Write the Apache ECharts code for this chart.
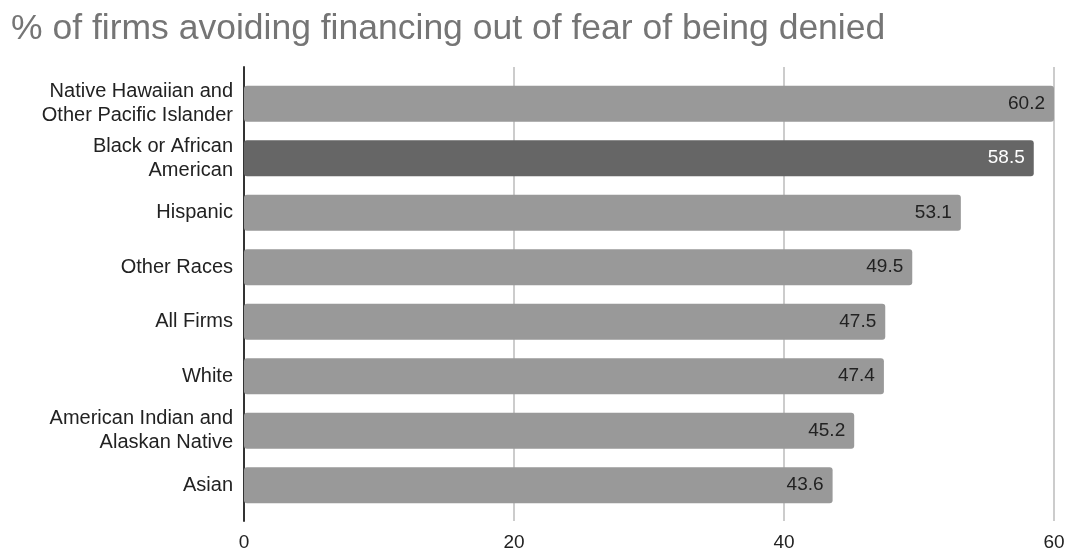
<!DOCTYPE html>
<html><head><meta charset="utf-8">
<script src="https://cdn.jsdelivr.net/npm/echarts@6/dist/echarts.min.js"></script>
<style>html,body{margin:0;padding:0;background:#fff}#c{width:1069px;height:552px}</style>
</head><body><div id="c"></div>
<script>
const titleText = '% of firms avoiding financing out of fear of being denied';
const categories = ['Native Hawaiian and\nOther Pacific Islander','Black or African\nAmerican','Hispanic','Other Races','All Firms','White','American Indian and\nAlaskan Native','Asian'];
const values = [60.2, 58.5, 53.1, 49.5, 47.5, 47.4, 45.2, 43.6];
const highlightIndex = 1;
const xTicks = [0, 20, 40, 60];

const font = 'Liberation Sans, Arial, sans-serif';
const chart = echarts.init(document.getElementById('c'));
chart.setOption({
  animation: false,
  title: { text: titleText, left: 6, top: 6, textStyle: { fontFamily: font, fontSize: 35.5, fontWeight: 'normal', color: '#757575' } },
  grid: [
    { left: 244, right: 15, top: 67, bottom: 30, containLabel: false },
    { left: 244, right: 15, top: 76.5, height: 436, containLabel: false }
  ],
  xAxis: [
    { gridIndex: 0, type: 'value', min: 0, max: 60, interval: 20,
      axisLine: { show: false }, axisTick: { show: false },
      splitLine: { lineStyle: { color: '#cccccc', width: 2 } },
      axisLabel: { fontFamily: font, fontSize: 19, color: '#222', margin: 12,
        formatter: v => xTicks.includes(v) ? String(v) : '' } },
    { gridIndex: 1, type: 'value', min: 0, max: 60, show: false }
  ],
  yAxis: [
    { gridIndex: 0, type: 'value', min: 0, max: 1, axisLabel: { show: false }, splitLine: { show: false },
      axisTick: { show: false }, axisLine: { show: true, onZero: false, lineStyle: { color: '#333', width: 2 } } },
    { gridIndex: 1, type: 'category', inverse: true, data: categories,
      axisLine: { show: false }, axisTick: { show: false },
      axisLabel: { fontFamily: font, fontSize: 20, color: '#222', margin: 11, lineHeight: 24, align: 'right' } }
  ],
  series: [{
    type: 'bar', xAxisIndex: 1, yAxisIndex: 1,
    data: values.map((v, i) => ({ value: v,
      itemStyle: { color: i === highlightIndex ? '#666666' : '#999999' },
      label: { color: i === highlightIndex ? '#ffffff' : '#222222' } })),
    barWidth: 36,
    itemStyle: { borderRadius: 3 },
    label: { show: true, position: 'insideRight', distance: 9, fontFamily: font, fontSize: 19,
      formatter: p => p.value.toFixed(1) }
  }]
});
</script></body></html>
